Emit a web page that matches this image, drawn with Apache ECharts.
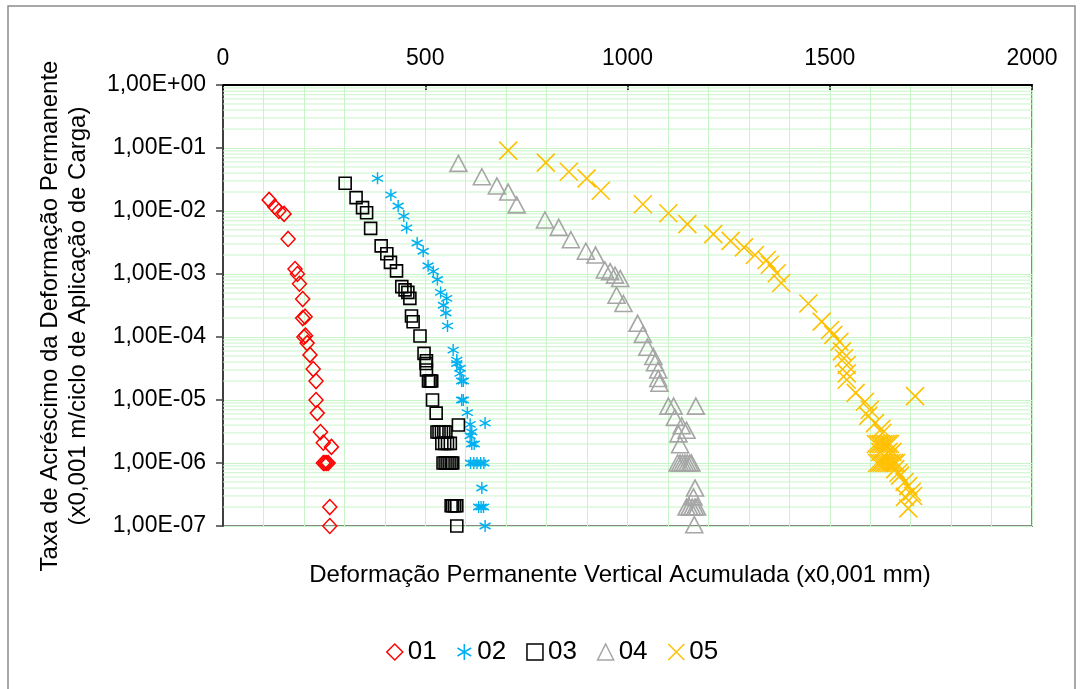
<!DOCTYPE html>
<html>
<head>
<meta charset="utf-8">
<script src="https://cdn.jsdelivr.net/npm/echarts@6/dist/echarts.min.js"></script>
<style>
html,body{margin:0;padding:0;background:#fff;}
#chart{width:1083px;height:689px;}
</style>
</head>
<body>
<div id="chart"></div>
<script>
const seriesNames = ['01', '02', '03', '04', '05'];
const xTickLabels = ['0', '500', '1000', '1500', '2000'];
const yTickValues = [1e-7, 1e-6, 1e-5, 1e-4, 1e-3, 1e-2, 1e-1, 1];

const s01 = [[114,1.5e-2],[128,1.17e-2],[138,1.0e-2],[151,9e-3],[161,3.6e-3],[178,1.2e-3],[184,1.0e-3],[189,7e-4],[197,4e-4],[197,2e-4],[203,2.1e-4],[200,1e-4],[204,1.05e-4],[208,8e-5],[215,5.2e-5],[223,3.1e-5],[230,2e-5],[230,1e-5],[233,6.2e-6],[241,3.1e-6],[248,2.1e-6],[268,1.8e-6],[248,1e-6],[252,1e-6],[256,1e-6],[260,1e-6],[264,2e-7],[264,1e-7]];

const s02 = [[382,3.3e-2],[415,1.8e-2],[433,1.2e-2],[447,8.3e-3],[454,5.4e-3],[480,3.1e-3],[495,2.3e-3],[507,1.35e-3],[520,1.1e-3],[530,8.2e-4],[538,5.1e-4],[553,4.1e-4],[545,3.2e-4],[551,2.4e-4],[555,1.5e-4],[569,6.2e-5],[578,4.3e-5],[578,3.8e-5],[586,3.2e-5],[586,2.65e-5],[590,2e-5],[594,2e-5],[590,1e-5],[594,1e-5],[604,6.3e-6],[611,4.1e-6],[648,4.3e-6],[615,3.1e-6],[611,2.7e-6],[615,2e-6],[621,2e-6],[612,1e-6],[620,1e-6],[628,1e-6],[637,1e-6],[645,1e-6],[640,4e-7],[632,2e-7],[638,2e-7],[644,2e-7],[648,1e-7]];

const s03 = [[302,2.75e-2],[329,1.63e-2],[345,1.13e-2],[355,9.4e-3],[365,5.3e-3],[391,2.8e-3],[405,2.1e-3],[414,1.53e-3],[429,1.12e-3],[442,6.3e-4],[450,5.6e-4],[457,5.1e-4],[462,4.1e-4],[466,2.15e-4],[470,1.75e-4],[487,1.04e-4],[497,5.5e-5],[503,4.2e-5],[502,3.8e-5],[503,3.0e-5],[508,2.0e-5],[512,2.0e-5],[516,2.0e-5],[518,1e-5],[527,6.2e-6],[582,4e-6],[529,3.1e-6],[534,3.1e-6],[540,3.1e-6],[546,3.1e-6],[551,3.1e-6],[541,2.05e-6],[548,2.05e-6],[555,2.05e-6],[562,2.05e-6],[544,1e-6],[549,1e-6],[554,1e-6],[559,1e-6],[564,1e-6],[568,1e-6],[564,2.1e-7],[568,2.1e-7],[573,2.1e-7],[578,2.1e-7],[578,1e-7]];

const s04 = [[582,5.7e-2],[640,3.5e-2],[677,2.5e-2],[705,2.0e-2],[726,1.25e-2],[796,7.2e-3],[830,5.5e-3],[860,3.5e-3],[897,2.3e-3],[921,2.0e-3],[944,1.16e-3],[957,1.09e-3],[969,9.6e-4],[982,8.5e-4],[973,4.6e-4],[990,3.4e-4],[1025,1.65e-4],[1038,1.1e-4],[1049,6.9e-5],[1064,4.9e-5],[1068,3.9e-5],[1076,3.0e-5],[1076,2.2e-5],[1079,1.85e-5],[1101,8e-6],[1114,8e-6],[1169,8e-6],[1117,5.3e-6],[1134,3.9e-6],[1146,3.3e-6],[1126,2.9e-6],[1130,1.95e-6],[1124,1e-6],[1130,1e-6],[1136,1e-6],[1142,1e-6],[1148,1e-6],[1154,1e-6],[1158,1e-6],[1167,4e-7],[1163,2.9e-7],[1146,2e-7],[1153,2e-7],[1160,2e-7],[1167,2e-7],[1172,2e-7],[1165,1.05e-7]];

const s05 = [[705,9.1e-2],[798,5.85e-2],[855,4.2e-2],[899,3.3e-2],[934,2.1e-2],[1038,1.28e-2],[1101,9.2e-3],[1148,6.2e-3],[1212,4.3e-3],[1255,3.35e-3],[1288,2.65e-3],[1315,2.0e-3],[1344,1.67e-3],[1352,1.4e-3],[1369,1.03e-3],[1380,7.2e-4],[1447,3.4e-4],[1480,1.75e-4],[1501,1.29e-4],[1509,1.08e-4],[1524,8.4e-5],[1530,5.9e-5],[1535,4.6e-5],[1542,3.6e-5],[1542,2.65e-5],[1542,2.1e-5],[1564,1.3e-5],[1587,9.4e-6],[1599,7e-6],[1595,5.6e-6],[1612,4.3e-6],[1628,3.5e-6],[1711,1.15e-5],[1630,3e-6],[1614,2e-6],[1620,2e-6],[1626,2e-6],[1632,2e-6],[1638,2e-6],[1644,2e-6],[1649,2e-6],[1625,1.5e-6],[1645,1.5e-6],[1655,1.5e-6],[1617,1e-6],[1623,1e-6],[1629,1e-6],[1635,1e-6],[1641,1e-6],[1647,1e-6],[1653,1e-6],[1659,1e-6],[1664,1e-6],[1662,8e-7],[1670,7e-7],[1674,6.3e-7],[1685,5e-7],[1694,4.3e-7],[1703,3.5e-7],[1686,2.9e-7],[1706,3e-7],[1694,1.9e-7]];

const minorGridValues = [];
for (let e = -7; e < 0; e++) {
  for (let m = 2; m <= 9; m++) minorGridValues.push(m * Math.pow(10, e));
}

const FONT = "'Liberation Sans', Arial, sans-serif";
const GRID_COLOR = '#c8f5c8';

const markerDefs = [
  { symbol: 'diamond', size: [14, 15], color: '#ff0000', width: 1.5 },
  { symbol: 'path://M5,0L5,10M0.7,2.5L9.3,7.5M0.7,7.5L9.3,2.5', size: [11, 12], color: '#00b0f0', width: 1.5 },
  { symbol: 'rect', size: [12, 12], color: '#000000', width: 1.6 },
  { symbol: 'triangle', size: [17, 16], color: '#a6a6a6', width: 1.6 },
  { symbol: 'path://M0,0L10,10M10,0L0,10', size: [18, 18], color: '#ffc000', width: 1.6 }
];
const allData = [s01, s02, s03, s04, s05];

function fmtExp(v) {
  const e = Math.round(Math.log10(v));
  const a = Math.abs(e);
  return '1,00E' + (e >= 0 ? '+' : '-') + (a < 10 ? '0' + a : '' + a);
}

const chart = echarts.init(document.getElementById('chart'), null, { renderer: 'canvas' });

const series = seriesNames.map((n, i) => ({
  name: n,
  type: 'scatter',
  data: allData[i],
  symbol: markerDefs[i].symbol,
  symbolSize: markerDefs[i].size,
  itemStyle: { color: 'rgba(0,0,0,0)', borderColor: markerDefs[i].color, borderWidth: markerDefs[i].width, opacity: 1 },
  emphasis: { disabled: true },
  z: 3
}));

series.push({
  name: 'minorGrid',
  type: 'custom',
  silent: true,
  z: 1,
  data: minorGridValues.map(v => [0, v]),
  renderItem: function (params, api) {
    const y = api.value(1);
    const p1 = api.coord([0, y]);
    const p2 = api.coord([2000, y]);
    return {
      type: 'line',
      shape: { x1: p1[0], y1: p1[1], x2: p2[0], y2: p2[1] },
      style: { stroke: GRID_COLOR, lineWidth: 1 }
    };
  }
});

const option = {
  backgroundColor: '#ffffff',
  animation: false,
  textStyle: { fontFamily: FONT },
  grid: {
    left: 223, right: 51, top: 85, bottom: 163,
    show: true, borderColor: '#888888', borderWidth: 2, backgroundColor: '#ffffff'
  },
  xAxis: {
    type: 'value',
    position: 'top',
    min: 0, max: 2000, interval: 500,
    axisLine: { show: true, onZero: false, lineStyle: { color: '#000', width: 2 } },
    axisTick: { show: true, inside: true, length: 5, lineStyle: { color: '#000', width: 1.5 } },
    axisLabel: {
      color: '#000', fontSize: 23, fontFamily: FONT, margin: 15,
      formatter: function (v) { return xTickLabels[Math.round(v / 500)]; }
    },
    splitLine: { show: true, lineStyle: { color: GRID_COLOR, width: 1 } },
    minorTick: { show: false, splitNumber: 5 },
    minorSplitLine: { show: true, lineStyle: { color: GRID_COLOR, width: 1 } }
  },
  yAxis: {
    type: 'log',
    logBase: 10,
    min: yTickValues[0], max: yTickValues[yTickValues.length - 1],
    interval: 1,
    axisLine: { show: true, onZero: false, lineStyle: { color: '#404040', width: 2 } },
    axisTick: { show: true, inside: false, length: 7, lineStyle: { color: '#404040', width: 1.5 } },
    axisLabel: { color: '#000', fontSize: 23, fontFamily: FONT, margin: 17, formatter: fmtExp },
    splitLine: { show: true, lineStyle: { color: GRID_COLOR, width: 1 } }
  },
  legend: {
    data: seriesNames.map((n, i) => ({
      name: n,
      icon: markerDefs[i].symbol,
      itemStyle: { color: 'rgba(0,0,0,0)', borderColor: markerDefs[i].color, borderWidth: 1.5 }
    })),
    left: 381, top: 634,
    itemWidth: 16, itemHeight: 16, itemGap: 20,
    textStyle: { fontSize: 26, color: '#000', fontFamily: FONT, padding: [0, 0, 0, 0] },
    selectedMode: false
  },
  graphic: [
    {
      type: 'rect', silent: true, z: -1,
      shape: { x: 8, y: 6, width: 1067, height: 700 },
      style: { fill: 'none', stroke: '#8c8c8c', lineWidth: 1.5 }
    },
    {
      type: 'text', silent: true,
      x: 620, y: 575,
      style: {
        text: 'Deformação Permanente Vertical Acumulada (x0,001 mm)',
        font: '24px ' + FONT, fill: '#000', textAlign: 'center', textVerticalAlign: 'middle'
      }
    },
    {
      type: 'text', silent: true,
      x: 64, y: 316, rotation: Math.PI / 2,
      style: {
        text: 'Taxa de Acréscimo da Deformação Permanente\n(x0,001 m/ciclo de Aplicação de Carga)',
        font: '24px ' + FONT, fill: '#000', textAlign: 'center', textVerticalAlign: 'middle', lineHeight: 28
      }
    }
  ],
  series: series
};

chart.setOption(option);
</script>
</body>
</html>
